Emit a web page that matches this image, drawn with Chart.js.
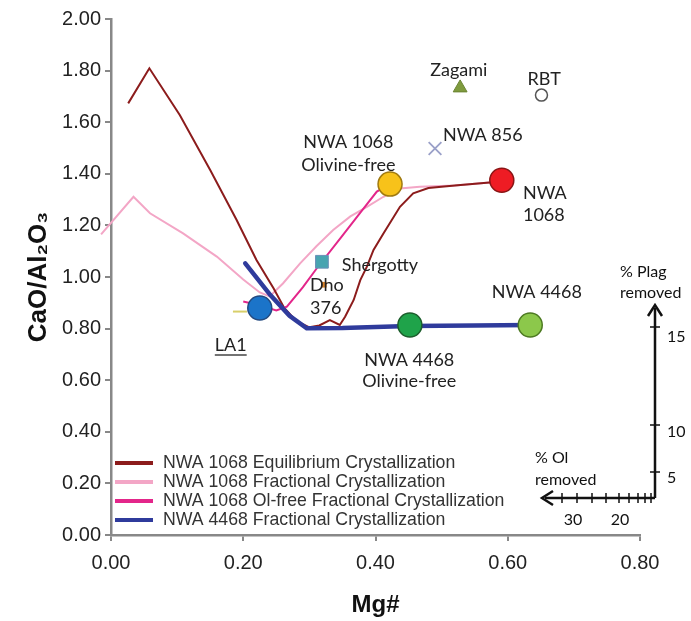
<!DOCTYPE html>
<html>
<head>
<meta charset="utf-8">
<script src="https://cdn.jsdelivr.net/npm/chart.js@4.4.1/dist/chart.umd.min.js"></script>
<style>
  body { margin: 0; background: #fff; }
  #wrap { width: 691px; height: 621px; }
</style>
</head>
<body>
<div id="wrap"><canvas id="mgChart" width="691" height="621"></canvas></div>
<script>
// NWA 1068 equilibrium crystallization (Mg#, CaO/Al2O3)
var eqMg = [0.026, 0.058, 0.104, 0.150, 0.190, 0.220, 0.246, 0.262, 0.280, 0.300, 0.315, 0.331, 0.346, 0.354, 0.367, 0.377, 0.387, 0.397, 0.412, 0.437, 0.457, 0.480, 0.520, 0.590];
var eqCa = [1.673, 1.809, 1.628, 1.415, 1.221, 1.066, 0.955, 0.880, 0.830, 0.805, 0.812, 0.833, 0.814, 0.846, 0.911, 0.988, 1.040, 1.105, 1.169, 1.272, 1.324, 1.345, 1.355, 1.370];

// NWA 1068 fractional crystallization
var frMg = [-0.015, 0.034, 0.059, 0.109, 0.160, 0.200, 0.225, 0.240, 0.260, 0.286, 0.311, 0.336, 0.362, 0.387, 0.412, 0.437, 0.467, 0.520, 0.590];
var frCa = [1.165, 1.311, 1.247, 1.169, 1.079, 0.990, 0.940, 0.925, 0.975, 1.053, 1.120, 1.182, 1.235, 1.272, 1.311, 1.343, 1.350, 1.355, 1.370];

// NWA 1068 olivine-free fractional crystallization
var ofMg = [0.200, 0.225, 0.250, 0.266, 0.290, 0.311, 0.350, 0.380, 0.402, 0.422];
var ofCa = [0.905, 0.890, 0.870, 0.885, 0.960, 1.033, 1.160, 1.259, 1.331, 1.360];

// NWA 4468 fractional crystallization
var n44Mg = [0.203, 0.241, 0.270, 0.296, 0.350, 0.450, 0.550, 0.634];
var n44Ca = [1.053, 0.930, 0.850, 0.801, 0.802, 0.810, 0.812, 0.814];

// starting compositions: NWA 1068, NWA 1068 Ol-free, LA1, NWA 4468 Ol-free, NWA 4468
var bulkMg = [0.591, 0.422, 0.225, 0.452, 0.634];
var bulkCa = [1.375, 1.360, 0.880, 0.814, 0.814];

// other shergottites
var zagami = [0.528, 1.733];
var rbt = [0.651, 1.705];
var nwa856 = [0.490, 1.498];
var shergotty = [0.319, 1.059];
var dho376 = [0.322, 0.970];
var other = [0.195, 0.866];

var lineNames = ['NWA 1068 Equilibrium Crystallization', 'NWA 1068 Fractional Crystallization',
                 'NWA 1068 Ol-free Fractional Crystallization', 'NWA 4468 Fractional Crystallization'];
var lineColors = ['#8c1c1c', '#f3a6c6', '#e3268a', '#2f3b9c'];

var xTicks = [0, 0.2, 0.4, 0.6, 0.8];
var plagTicks = ['5', '10', '15'];
var olTicks = ['30', '20'];

function pts(xs, ys) {
    return xs.map(function (x, i) { return { x: x, y: ys[i] }; });
}

var labelFont = '18px Lato, "Open Sans", sans-serif';

// labels, underline and the little % removed axes
var notes = {
    id: 'notes',
    afterDatasetsDraw: function (chart) {
        var c = chart.ctx, sx = chart.scales.x, sy = chart.scales.y, a = chart.chartArea;
        var tags = [
            ['Zagami', 0.526, 1.800, 'center'],
            ['RBT', 0.655, 1.765, 'center'],
            ['NWA 856', 0.502, 1.550, 'left'],
            ['NWA 1068', 0.359, 1.523, 'center'],
            ['Olivine-free', 0.359, 1.434, 'center'],
            ['NWA', 0.623, 1.326, 'left'],
            ['1068', 0.623, 1.240, 'left'],
            ['Shergotty', 0.349, 1.047, 'left'],
            ['Dho', 0.301, 0.969, 'left'],
            ['376', 0.301, 0.880, 'left'],
            ['LA1', 0.157, 0.736, 'left'],
            ['NWA 4468', 0.644, 0.942, 'center'],
            ['NWA 4468', 0.451, 0.678, 'center'],
            ['Olivine-free', 0.451, 0.597, 'center']
        ];
        c.save();
        c.font = labelFont;
        c.fillStyle = '#222';
        c.textBaseline = 'middle';
        tags.forEach(function (t) {
            var px = sx.getPixelForValue(t[1]), py = sy.getPixelForValue(t[2]);
            c.textAlign = t[3];
            c.fillText(t[0], px, py);
            if (t[0] === 'LA1') {
                var w = c.measureText(t[0]).width;
                c.strokeStyle = '#444';
                c.lineWidth = 1.5;
                c.beginPath();
                c.moveTo(px, py + 10);
                c.lineTo(px + w, py + 10);
                c.stroke();
            }
        });

        // % removed arrows at the right
        var ox = a.right + 15, oy = a.bottom - 37;
        c.strokeStyle = '#111';
        c.fillStyle = '#111';
        c.lineWidth = 2.5;
        c.beginPath();
        c.moveTo(ox, oy); c.lineTo(ox, oy - 190);
        c.moveTo(ox, oy); c.lineTo(ox - 110, oy);
        c.stroke();
        c.beginPath();
        c.moveTo(ox - 7, oy - 182); c.lineTo(ox, oy - 193); c.lineTo(ox + 7, oy - 182);
        c.moveTo(ox - 102, oy - 7); c.lineTo(ox - 113, oy); c.lineTo(ox - 102, oy + 7);
        c.stroke();
        c.lineWidth = 1.5;
        c.beginPath();
        [26, 73, 171].forEach(function (d) { c.moveTo(ox - 5, oy - d); c.lineTo(ox + 5, oy - d); });
        [4, 10, 17, 26, 36, 49, 63, 78, 93].forEach(function (d) { c.moveTo(ox - d, oy - 5); c.lineTo(ox - d, oy + 5); });
        c.stroke();

        c.font = '16px Lato, "Open Sans", sans-serif';
        c.textAlign = 'left';
        c.fillText(plagTicks[0], ox + 12, oy - 20);
        c.fillText(plagTicks[1], ox + 12, oy - 66);
        c.fillText(plagTicks[2], ox + 12, oy - 161);
        c.textAlign = 'center';
        c.fillText(olTicks[0], ox - 82, oy + 22);
        c.fillText(olTicks[1], ox - 35, oy + 22);
        c.textAlign = 'left';
        c.fillText('% Plag', ox - 35, oy - 226);
        c.fillText('removed', ox - 35, oy - 205);
        c.fillText('% Ol', ox - 120, oy - 40);
        c.fillText('removed', ox - 120, oy - 18);
        c.restore();
    },
    afterDraw: function (chart) {
        // legend in the lower left corner of the plot
        var c = chart.ctx, a = chart.chartArea;
        c.save();
        c.font = '17.7px "Liberation Sans", Arial, sans-serif';
        c.textBaseline = 'middle';
        c.textAlign = 'left';
        lineNames.forEach(function (name, i) {
            var y = a.bottom - 72 + i * 19;
            c.strokeStyle = lineColors[i];
            c.lineWidth = 4;
            c.beginPath();
            c.moveTo(a.left + 4, y);
            c.lineTo(a.left + 42, y);
            c.stroke();
            c.fillStyle = '#333';
            c.fillText(name, a.left + 52, y);
        });
        c.restore();
    }
};

var ctx = document.getElementById('mgChart');

var mgChart = new Chart(ctx, {
    type: 'scatter',
    data: {
        datasets: [
            {
                label: 'Starting compositions',
                data: pts(bulkMg, bulkCa),
                pointRadius: 12,
                pointBackgroundColor: ['#ee1c24', '#f7c21a', '#1b74c9', '#1fa34a', '#8cc84b'],
                pointBorderColor: ['#8a1515', '#a07a10', '#234a80', '#1c5e2c', '#4d7a22'],
                pointBorderWidth: 1.5,
                order: 0
            },
            {
                label: 'Zagami',
                data: [{ x: zagami[0], y: zagami[1] }],
                pointStyle: 'triangle',
                pointRadius: 8,
                pointBackgroundColor: '#7f9b3e',
                pointBorderColor: '#6a8433',
                order: 0
            },
            {
                label: 'RBT',
                data: [{ x: rbt[0], y: rbt[1] }],
                pointRadius: 6,
                pointBackgroundColor: '#fff',
                pointBorderColor: '#555',
                pointBorderWidth: 1.5,
                order: 0
            },
            {
                label: 'NWA 856',
                data: [{ x: nwa856[0], y: nwa856[1] }],
                pointStyle: 'crossRot',
                pointRadius: 9,
                pointBorderColor: '#9aa0c8',
                pointBorderWidth: 1.8,
                order: 0
            },
            {
                label: 'Shergotty',
                data: [{ x: shergotty[0], y: shergotty[1] }],
                pointStyle: 'rect',
                pointRadius: 9,
                pointBackgroundColor: '#48a4b0',
                pointBorderColor: '#6a8fb8',
                pointBorderWidth: 1,
                order: 0
            },
            {
                label: 'Dho 376',
                data: [{ x: dho376[0], y: dho376[1] }],
                pointStyle: 'rect',
                pointRadius: 4,
                pointBackgroundColor: '#d9822b',
                pointBorderWidth: 0,
                order: 0
            },
            {
                label: 'Other',
                data: [{ x: other[0], y: other[1] }],
                pointStyle: 'line',
                pointRadius: 7,
                pointBorderColor: '#d8cf6a',
                pointBorderWidth: 2,
                order: 0
            },
            {
                label: lineNames[3],
                data: pts(n44Mg, n44Ca),
                showLine: true,
                borderColor: lineColors[3],
                borderWidth: 4.5,
                borderCapStyle: 'round',
                pointRadius: 0,
                order: 1
            },
            {
                label: lineNames[2],
                data: pts(ofMg, ofCa),
                showLine: true,
                borderColor: lineColors[2],
                borderWidth: 2,
                pointRadius: 0,
                order: 2
            },
            {
                label: lineNames[0],
                data: pts(eqMg, eqCa),
                showLine: true,
                borderColor: lineColors[0],
                borderWidth: 2,
                pointRadius: 0,
                order: 2
            },
            {
                label: lineNames[1],
                data: pts(frMg, frCa),
                showLine: true,
                borderColor: lineColors[1],
                borderWidth: 2,
                pointRadius: 0,
                clip: false,
                order: 3
            }
        ]
    },
    options: {
        responsive: false,
        animation: false,
        layout: { padding: { left: 0, right: 51, top: 19, bottom: 0 } },
        plugins: {
            legend: { display: false },
            tooltip: { enabled: false }
        },
        scales: {
            x: {
                type: 'linear',
                min: 0,
                max: 0.8,
                afterFit: function (s) { s.height = 86; },
                afterBuildTicks: function (s) { s.ticks = xTicks.map(function (v) { return { value: v }; }); },
                border: { color: '#888', width: 2.5 },
                grid: { drawOnChartArea: false, tickLength: 6, color: '#888', lineWidth: 2 },
                ticks: {
                    padding: 10,
                    color: '#222',
                    font: { family: '"Liberation Sans", Arial, sans-serif', size: 20 },
                    callback: function (v) { return v.toFixed(2); }
                },
                title: {
                    display: true,
                    text: 'Mg#',
                    color: '#111',
                    font: { family: '"Liberation Sans", Arial, sans-serif', size: 24, weight: 'bold' },
                    padding: { bottom: 1 }
                }
            },
            y: {
                min: 0,
                max: 2,
                afterFit: function (s) { s.width = 111; },
                border: { color: '#888', width: 2.5 },
                grid: { drawOnChartArea: false, tickLength: 6, color: '#888', lineWidth: 2 },
                ticks: {
                    stepSize: 0.2,
                    padding: 4,
                    color: '#222',
                    font: { family: '"Liberation Sans", Arial, sans-serif', size: 20 },
                    callback: function (v) { return v.toFixed(2); }
                },
                title: {
                    display: true,
                    text: 'CaO/Al\u2082O\u2083',
                    color: '#111',
                    font: { family: '"Liberation Sans", "DejaVu Sans", Arial, sans-serif', size: 26, weight: 'bold' },
                    padding: { top: 23 }
                }
            }
        }
    },
    plugins: [notes]
});
</script>
</body>
</html>
